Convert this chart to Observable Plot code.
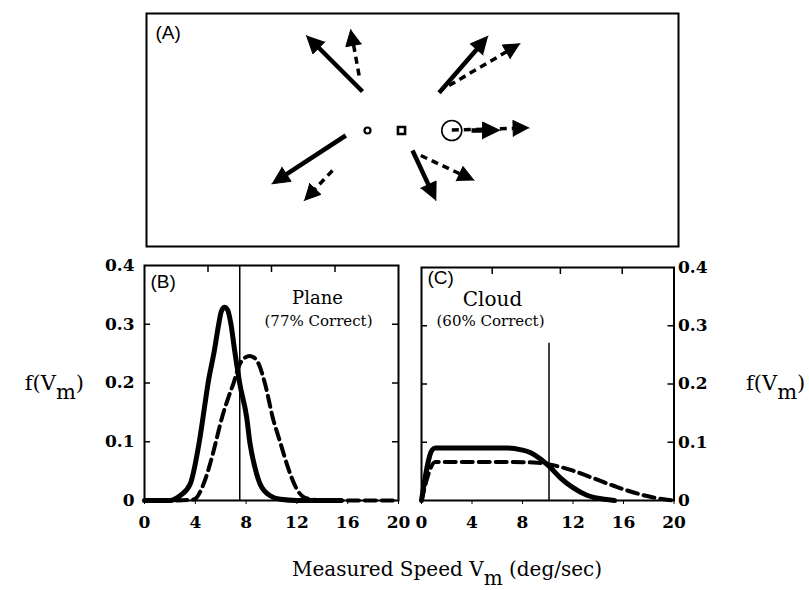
<!DOCTYPE html>
<html><head><meta charset="utf-8">
<script src="https://cdn.jsdelivr.net/npm/d3@7"></script>
<script src="https://cdn.jsdelivr.net/npm/@observablehq/plot@0.6"></script>
<style>
body{margin:0;background:#fff;}
#wrap{position:relative;width:809px;height:590px;overflow:hidden;background:#fff;}
.panel{position:absolute;}
.lab{position:absolute;font-family:"DejaVu Serif",serif;color:#000;line-height:1;white-space:nowrap;}
.sub{position:relative;top:9px;}
</style></head><body>
<div id="wrap">
  <div class="panel" id="pa" style="left:144px;top:11px;"></div>
  <div class="panel" id="pb" style="left:90px;top:255px;"></div>
  <div class="panel" id="pc" style="left:400px;top:255px;"></div>
  <div class="lab" style="left:10px;width:74px;top:373px;font-size:21px;text-align:right">f(V<span class="sub">m</span>)</div>
  <div class="lab" style="left:746px;top:373px;font-size:21px;">f(V<span class="sub">m</span>)</div>
  <div class="lab" style="left:227px;width:440px;top:559px;font-size:20px;text-align:center">Measured Speed V<span class="sub" style="top:9px">m</span> (deg/sec)</div>
</div>
<script>
// ---------- Panel A: motion vectors (units: deg, square marker at origin) ----------
const arrowStyle = ["solid","solid","solid","solid","solid","dashed","dashed","dashed","dashed","dashed"];
const arrowX1 = [-3.9, -5.57, 3.76, 7.0, 1.1, -4.24, -6.9, 4.76, 5.03, 1.93];
const arrowY1 = [3.9, -0.5, 3.77, 0, -2.0, 5.5, -4.0, 4.5, 0.05, -2.5];
const arrowX2 = [-9.5, -12.97, 8.66, 9.86, 3.43, -5.07, -9.74, 11.86, 12.76, 7.26];
const arrowY2 = [9.5, -5.33, 9.43, 0, -7.0, 10.1, -7.0, 8.67, 0.25, -5.0];
const markerKind = ["circle", "square", "ring"];
const markerX = [-3.4, 0, 5.03];
const markerY = [0, 0, 0];

// ---------- Panel B: Plane ----------
const bSolidX = [0, 1, 2, 2.8, 3.6, 4.3, 4.8, 5.0, 5.5, 5.85, 6.05, 6.3, 6.55, 6.8, 7.1, 7.5, 8.05, 8.3, 8.7, 9.1, 9.9, 10.7, 12, 14, 15.5];
const bSolidY = [0, 0, 0, 0.008, 0.028, 0.098, 0.17, 0.199, 0.255, 0.301, 0.322, 0.329, 0.324, 0.301, 0.255, 0.199, 0.141, 0.098, 0.056, 0.028, 0.008, 0.002, 0, 0, 0];
const bDashX = [2.5, 3.9, 4.65, 5.2, 5.6, 6.1, 6.6, 7.0, 7.5, 7.9, 8.3, 8.7, 9.0, 9.5, 10.1, 10.7, 11.3, 12.0, 12.6, 13.5, 15, 17, 20];
const bDashY = [0, 0.002, 0.028, 0.065, 0.098, 0.141, 0.175, 0.199, 0.232, 0.243, 0.246, 0.242, 0.232, 0.198, 0.141, 0.098, 0.056, 0.019, 0.005, 0.001, 0, 0, 0];
const bThreshold = 7.5;

// ---------- Panel C: Cloud ----------
const cSolidX = [0, 0.85, 1.1, 3, 5, 6.8, 7.9, 8.65, 9.45, 10.1, 11.0, 12.0, 13.1, 14.5, 15.3];
const cSolidY = [0, 0.087, 0.09, 0.09, 0.09, 0.09, 0.087, 0.082, 0.071, 0.059, 0.039, 0.022, 0.009, 0.002, 0];
const cDashX = [0, 1.1, 3, 5, 7, 9.2, 10.1, 11.6, 13.4, 15.5, 17.6, 19.2, 20];
const cDashY = [0, 0.066, 0.066, 0.066, 0.066, 0.065, 0.062, 0.054, 0.04, 0.023, 0.009, 0.002, 0];
const cThreshold = 10.1;
const cThresholdTop = 0.27;

// ---------- ticks ----------
const xTicks = [0, 4, 8, 12, 16, 20];
const yTicks = [0, 0.1, 0.2, 0.3, 0.4];
const innerYTicks = [0.1, 0.2, 0.3];
const bTopTicks = [5, 10, 15];
const cTopTicks = [5.6, 11, 15.9];
const yFmt = d => d === 0 ? "0" : String(d);

// ---------- build panel A ----------
const arrows = arrowX1.map((x1, i) => ({style: arrowStyle[i], x1, y1: arrowY1[i], x2: arrowX2[i], y2: arrowY2[i]}));
const shafts = [], heads = [];
arrows.forEach((a, i) => {
  const L = a.style === "solid" ? 1.75 : 1.6, W = a.style === "solid" ? 0.85 : 0.8;
  const dx = a.x2 - a.x1, dy = a.y2 - a.y1, n = Math.hypot(dx, dy);
  const ux = dx / n, uy = dy / n, px = -uy, py = ux;
  const bx = a.x2 - ux * L, by = a.y2 - uy * L;
  shafts.push({style: a.style, x1: a.x1, y1: a.y1, x2: bx + ux * 0.3, y2: by + uy * 0.3});
  heads.push({id: i, x: a.x2, y: a.y2}, {id: i, x: bx + px * W, y: by + py * W}, {id: i, x: bx - px * W, y: by - py * W});
});
const markers = markerKind.map((k, i) => ({kind: k, x: markerX[i], y: markerY[i]}));

const pa = Plot.plot({
  width: 536, height: 237, marginTop: 2, marginBottom: 2, marginLeft: 2, marginRight: 2,
  x: {domain: [-25.5, 27.7], axis: null},
  y: {domain: [-11.6, 11.7], axis: null},
  style: {background: "transparent", overflow: "visible"},
  marks: [
    Plot.frame({stroke: "black", strokeWidth: 2}),
    Plot.link(shafts.filter(d => d.style === "dashed"), {x1: "x1", y1: "y1", x2: "x2", y2: "y2", stroke: "black", strokeWidth: 3.5, strokeDasharray: "7,5"}),
    Plot.link(shafts.filter(d => d.style === "solid"), {x1: "x1", y1: "y1", x2: "x2", y2: "y2", stroke: "black", strokeWidth: 4.5}),
    Plot.line(heads, {x: "x", y: "y", z: "id", fill: "black", stroke: "black", strokeWidth: 1, strokeLinejoin: "miter"}),
    Plot.dot(markers.filter(d => d.kind === "circle"), {x: "x", y: "y", r: 3, stroke: "black", strokeWidth: 2.2, fill: "white"}),
    Plot.dot(markers.filter(d => d.kind === "square"), {x: "x", y: "y", r: 4, symbol: "square", stroke: "black", strokeWidth: 2.6, fill: "white"}),
    Plot.dot(markers.filter(d => d.kind === "ring"), {x: "x", y: "y", r: 10, stroke: "black", strokeWidth: 1.6, fill: "none"}),
    Plot.text(["(A)"], {frameAnchor: "top-left", dx: 9, dy: 12, lineAnchor: "top", textAnchor: "start", fontFamily: "Liberation Sans", fontSize: 19})
  ]
});
document.getElementById("pa").appendChild(pa);

// ---------- build panel B ----------
const bSolid = bSolidX.map((x, i) => ({x, y: bSolidY[i]}));
const bDash = bDashX.map((x, i) => ({x, y: bDashY[i]}));
const pbW = 320, pbH = 295, pbML = 54, pbMR = 12, pbMT = 10, pbMB = 50;
const bInnerW = pbW - pbML - pbMR, bInnerH = pbH - pbMT - pbMB;
const pb = Plot.plot({
  width: pbW, height: pbH, marginLeft: pbML, marginRight: pbMR, marginTop: pbMT, marginBottom: pbMB,
  x: {domain: [0, 20]}, y: {domain: [0, 0.4]},
  style: {background: "transparent", fontFamily: "DejaVu Serif", fontSize: "17px", fontWeight: "bold", overflow: "visible"},
  marks: [
    Plot.ruleX([bThreshold], {stroke: "black", strokeWidth: 1.5}),
    Plot.line(bDash, {x: "x", y: "y", stroke: "black", strokeWidth: 4, strokeDasharray: "11,6", curve: "monotone-x"}),
    Plot.line(bSolid, {x: "x", y: "y", stroke: "black", strokeWidth: 5, curve: "monotone-x", strokeLinejoin: "round"}),
    Plot.tickY(innerYTicks, {y: d => d, insetRight: bInnerW - 6, strokeWidth: 1.5}),
    Plot.tickY(innerYTicks, {y: d => d, insetLeft: bInnerW - 6, strokeWidth: 1.5}),
    Plot.tickX(bTopTicks, {x: d => d, insetBottom: bInnerH - 7, strokeWidth: 1.5}),
    Plot.frame({stroke: "black", strokeWidth: 2}),
    Plot.axisY({ticks: yTicks, tickSize: 0, tickPadding: 10, tickFormat: yFmt, label: null}),
    Plot.axisX({ticks: xTicks, tickSize: 4, tickPadding: 11, label: null}),
    Plot.text(["(B)"], {frameAnchor: "top-left", dx: 6, dy: 22, lineAnchor: "bottom", textAnchor: "start", fontFamily: "Liberation Sans", fontSize: 19, fontWeight: "normal"}),
    Plot.text(["Plane"], {frameAnchor: "top-left", dx: 173, dy: 38, lineAnchor: "bottom", textAnchor: "middle", fontFamily: "DejaVu Serif", fontSize: 18, fontWeight: "normal"}),
    Plot.text(["(77% Correct)"], {frameAnchor: "top-left", dx: 174, dy: 60, lineAnchor: "bottom", textAnchor: "middle", fontFamily: "DejaVu Serif", fontSize: 15, fontWeight: "normal"})
  ]
});
document.getElementById("pb").appendChild(pb);

// ---------- build panel C ----------
const cSolid = cSolidX.map((x, i) => ({x, y: cSolidY[i]}));
const cDash = cDashX.map((x, i) => ({x, y: cDashY[i]}));
const pcW = 330, pcH = 295, pcML = 21, pcMR = 56.5, pcMT = 12, pcMB = 50;
const cInnerW = pcW - pcML - pcMR, cInnerH = pcH - pcMT - pcMB;
const pc = Plot.plot({
  width: pcW, height: pcH, marginLeft: pcML, marginRight: pcMR, marginTop: pcMT, marginBottom: pcMB,
  x: {domain: [0, 20]}, y: {domain: [0, 0.4]},
  style: {background: "transparent", fontFamily: "DejaVu Serif", fontSize: "17px", fontWeight: "bold", overflow: "visible"},
  marks: [
    Plot.ruleX([cThreshold], {y1: 0, y2: cThresholdTop, stroke: "black", strokeWidth: 1.5}),
    Plot.line(cDash, {x: "x", y: "y", stroke: "black", strokeWidth: 4, strokeDasharray: "11,6", curve: "monotone-x"}),
    Plot.line(cSolid, {x: "x", y: "y", stroke: "black", strokeWidth: 5, curve: "monotone-x", strokeLinejoin: "round"}),
    Plot.tickY(innerYTicks, {y: d => d, insetRight: cInnerW - 6, strokeWidth: 1.5}),
    Plot.tickY(innerYTicks, {y: d => d, insetLeft: cInnerW - 6, strokeWidth: 1.5}),
    Plot.tickX(cTopTicks, {x: d => d, insetBottom: cInnerH - 7, strokeWidth: 1.5}),
    Plot.frame({stroke: "black", strokeWidth: 2}),
    Plot.axisY({anchor: "right", ticks: yTicks, tickSize: 0, tickPadding: 4, tickFormat: yFmt, label: null}),
    Plot.axisX({ticks: xTicks, tickSize: 4, tickPadding: 11, label: null}),
    Plot.text(["(C)"], {frameAnchor: "top-left", dx: 6, dy: 16, lineAnchor: "bottom", textAnchor: "start", fontFamily: "Liberation Sans", fontSize: 19, fontWeight: "normal"}),
    Plot.text(["Cloud"], {frameAnchor: "top-left", dx: 71, dy: 38, lineAnchor: "bottom", textAnchor: "middle", fontFamily: "DejaVu Serif", fontSize: 20, fontWeight: "normal"}),
    Plot.text(["(60% Correct)"], {frameAnchor: "top-left", dx: 69, dy: 58, lineAnchor: "bottom", textAnchor: "middle", fontFamily: "DejaVu Serif", fontSize: 15, fontWeight: "normal"})
  ]
});
document.getElementById("pc").appendChild(pc);
</script>
</body></html>
